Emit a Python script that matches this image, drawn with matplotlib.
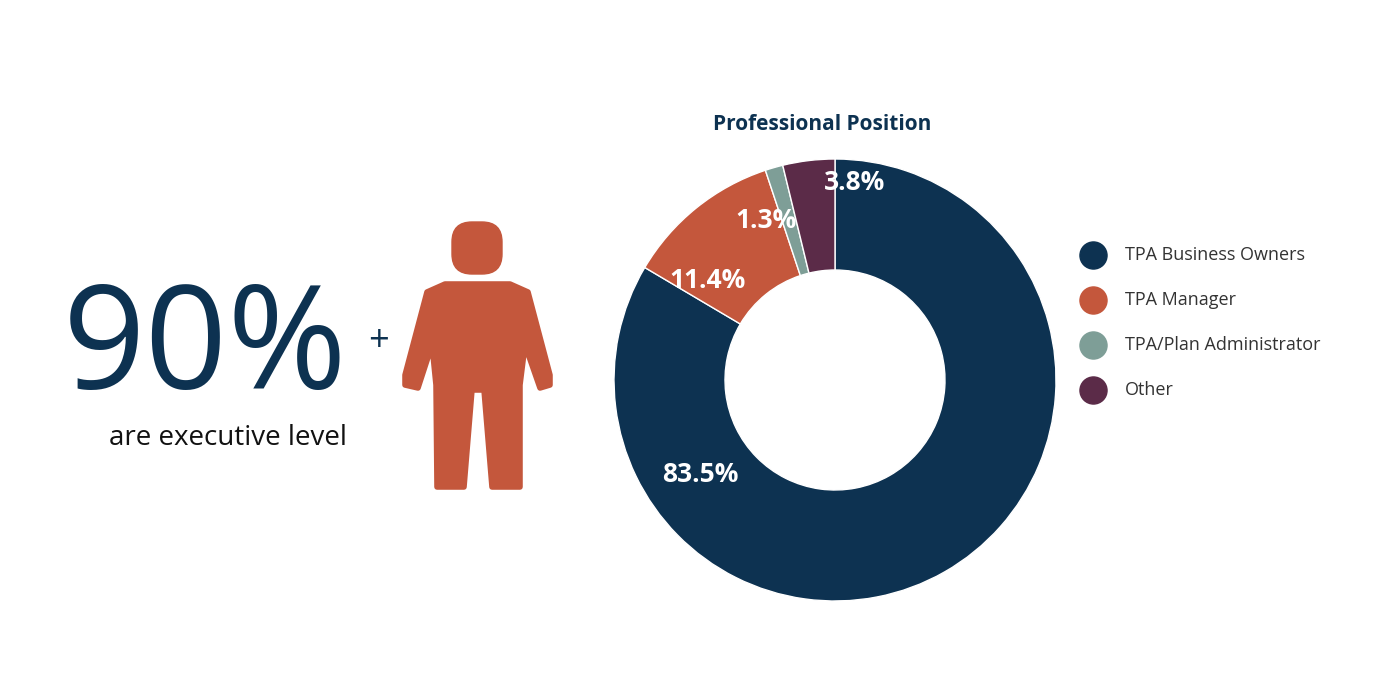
import matplotlib
matplotlib.use("Agg")
import matplotlib.pyplot as plt
from matplotlib.patches import FancyBboxPatch, Polygon

categories = ["TPA Business Owners", "TPA Manager", "TPA/Plan Administrator", "Other"]
values = [83.5, 11.4, 1.3, 3.8]
labels = ["83.5%", "11.4%", "1.3%", "3.8%"]
colors = ["#0d3251", "#c4573c", "#7e9e97", "#5b2b48"]
label_xy = [(700, 475), (708, 280), (766, 220), (855, 183)]

plt.rcParams['font.family'] = ['Open Sans', 'DejaVu Sans']
fig = plt.figure(figsize=(14, 7), dpi=100)
ax = fig.add_axes([0, 0, 1, 1])

# y axis is inverted afterwards, so counterclockwise in data = clockwise on screen
ax.pie(values, colors=colors, startangle=-90, counterclock=True,
       center=(835, 380), radius=221,
       wedgeprops=dict(width=111, edgecolor='white', linewidth=1))
ax.set_xlim(0, 1400); ax.set_ylim(700, 0); ax.set_aspect('equal'); ax.axis('off')
for (x, y), t in zip(label_xy, labels):
    ax.text(x, y, t, color='white', fontsize=19, fontweight='bold', ha='center', va='center')
ax.text(822, 125, "Professional Position", color='#0d3251', fontsize=15, fontweight='bold', ha='center', va='center')

for i, (c, n) in enumerate(zip(colors, categories)):
    y = 255 + i * 45
    ax.scatter([1093], [y], s=380, color=c)
    ax.text(1125, y, n, fontsize=13, color='#333333', va='center')

ax.text(205, 352, "90%", fontsize=104, color='#0d3251', ha='center', va='center')
ax.text(378, 342, "+", fontsize=26, color='#0d3251', ha='center', va='center')
ax.text(228, 438, "are executive level", fontsize=20, color='#111111', ha='center', va='center')

oc = "#c4573c"
ax.add_patch(FancyBboxPatch((452, 222), 50, 52, boxstyle="round,pad=0,rounding_size=20", color=oc))
body = [(445, 284), (510, 284), (528, 292), (550, 375), (550, 385), (540, 388), (525, 345),
        (520, 385), (520, 487), (492, 487), (484, 390), (472, 390), (464, 487), (437, 487),
        (436, 385), (432, 345), (418, 388), (405, 385), (405, 375), (427, 292)]
ax.add_patch(Polygon(body, closed=True, color=oc, joinstyle='round', linewidth=4))

fig.savefig("out.png", dpi=100, facecolor='white')
